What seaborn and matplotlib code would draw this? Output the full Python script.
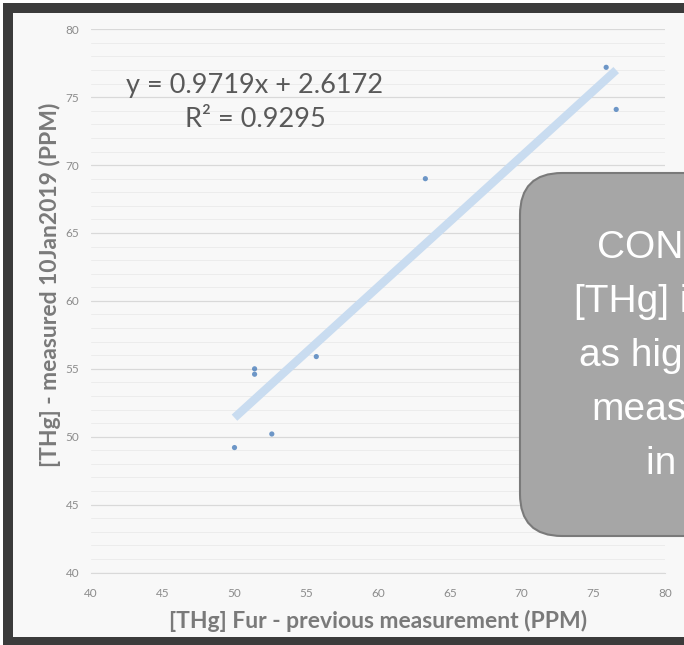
import numpy as np
import pandas as pd
import seaborn as sns
import matplotlib.pyplot as plt
from matplotlib.patches import Rectangle, FancyBboxPatch
from matplotlib.transforms import IdentityTransform

# Data
fur_prev = [50.0, 51.4, 51.4, 52.6, 55.7, 63.3, 75.9, 76.6]
measured = [49.2, 55.0, 54.6, 50.2, 55.9, 69.0, 77.2, 74.1]
axis_ticks = [40, 45, 50, 55, 60, 65, 70, 75, 80]
eq_lines = ["y = 0.9719x + 2.6172", "R² = 0.9295"]
box_lines = ["CONCLUSION:", "[THg] in fur is", "as high as the", "measurements", "in 2016"]

df = pd.DataFrame({"fur": fur_prev, "measured": measured})

sns.set_style("white")
plt.rcParams['font.family'] = ['Lato', 'DejaVu Sans']

W, H = 684, 645
fig = plt.figure(figsize=(W / 100, H / 100), dpi=100)
fig.patch.set_facecolor("white")

# dark frame and light inner panel (cut by the right edge)
fig.add_artist(Rectangle((3 / W, 0), 1, 1 - 3 / H, transform=fig.transFigure,
                         fc="#3b3b3b", ec="none", zorder=-3))
fig.add_artist(Rectangle((13 / W, 8 / H), 1, (637 - 13) / H, transform=fig.transFigure,
                         fc="#f8f8f8", ec="none", zorder=-2))

ax = fig.add_axes([91 / W, (H - 572.5) / H, 574 / W, 543.2 / H])
ax.patch.set_alpha(0)

sns.regplot(data=df, x="fur", y="measured", ax=ax, ci=None, truncate=True,
            scatter_kws=dict(s=14, color="#4a7ebb", edgecolor="none", zorder=4),
            line_kws=dict(color="#c9dcf0", lw=6, solid_capstyle="butt", zorder=3))

ax.set_xlim(40, 80)
ax.set_ylim(40, 80)
ax.set_xticks(axis_ticks)
ax.set_yticks(axis_ticks)
ax.set_yticks(range(40, 81), minor=True)
ax.grid(which="major", axis="y", color="#d9d9d9", lw=0.9)
ax.grid(which="minor", axis="y", color="#ececec", lw=0.7)
ax.set_axisbelow(True)
for s in ["top", "right", "left"]:
    ax.spines[s].set_visible(False)
ax.spines["bottom"].set_color("#d9d9d9")
ax.tick_params(axis="y", which="both", length=0, pad=8.5, labelsize=8.5, labelcolor="#8c8c8c")
ax.tick_params(axis="x", length=3, color="#d9d9d9", pad=8, labelsize=8.5, labelcolor="#8c8c8c")

ax.set_xlabel("[THg] Fur - previous measurement (PPM)", fontsize=16.5, fontweight="bold",
              color="#7a7a7a", va="center")
ax.xaxis.set_label_coords(0.5, (572.5 - 621) / 543.2)
ax.set_ylabel("[THg] - measured 10Jan2019 (PPM)", fontsize=16.5, fontweight="bold",
              color="#7a7a7a", va="center")
ax.yaxis.set_label_coords((50 - 91) / 574, (572.5 - 285) / 543.2)

# trendline equation
fig.text(255 / W, 1 - 93 / H, eq_lines[0], ha="center", va="baseline",
         fontsize=19.5, color="#595959")
fig.text(255 / W, 1 - 127 / H, eq_lines[1], ha="center", va="baseline",
         fontsize=19.5, color="#595959")

# grey call-out box, cut off by the right edge
box = FancyBboxPatch((520, H - 536), 400, 536 - 173,
                     boxstyle="round,pad=0,rounding_size=42",
                     transform=IdentityTransform(), fc="#a6a6a6", ec="#7a7a7a", lw=1.5,
                     zorder=5)
fig.add_artist(box)
starts = [597, 574, 579, 591, 646]
baselines = [258, 312, 366, 420, 474]
for txt, x0, yb in zip(box_lines, starts, baselines):
    fig.text(x0 / W, 1 - yb / H, txt, ha="left", va="baseline", fontsize=28,
             color="white", family=["Liberation Sans", "DejaVu Sans"], zorder=6)

fig.savefig("out.png", dpi=100)
